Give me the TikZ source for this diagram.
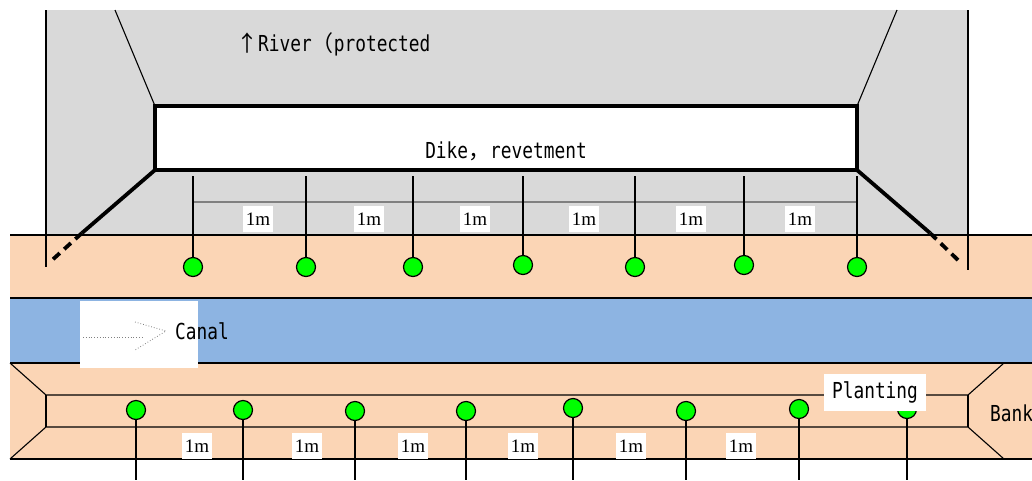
\documentclass[tikz,border=0pt]{standalone}
\usepackage{fontspec}
\setmainfont{Liberation Serif}
\newfontfamily\gothic{DejaVu Sans Mono}[FakeStretch=0.81]
\newfontfamily\jpfont{Noto Sans CJK JP}
\definecolor{rivergray}{HTML}{D9D9D9}
\definecolor{bankorange}{HTML}{FBD5B5}
\definecolor{canalblue}{HTML}{8DB4E2}
\definecolor{plantgreen}{HTML}{00FF00}
\tikzset{
	plant/.style={circle, draw, line width=1.2pt, fill=plantgreen, minimum size=19pt, inner sep=0pt},
	meter/.style={fill=white, inner sep=2pt, minimum width=30pt, minimum height=26pt, font=\fontsize{19}{19}\selectfont},
	gtext/.style={font=\gothic\fontsize{22}{22}\selectfont, inner sep=0pt},
	thinline/.style={line width=1.1pt},
	dikeline/.style={line width=3.8pt}
}
\begin{document}
\begin{tikzpicture}[x=1pt,y=-1pt]
	\useasboundingbox (0,0) rectangle (1032,480);
	% river side and bands
	\fill[rivergray] (46,10) rectangle (968,235);
	\fill[bankorange] (10,235) rectangle (1032,298);
	\fill[canalblue] (10,298) rectangle (1032,363);
	\fill[bankorange] (10,363) rectangle (1032,459);
	\draw[thinline] (10,235) -- (1032,235);
	\draw[thinline] (10,298) -- (1032,298);
	\draw[thinline] (10,363) -- (1032,363);
	\draw[thinline] (10,459) -- (1032,459);
	\draw[thinline] (46,10) -- (46,267);
	\draw[thinline] (968,10) -- (968,270);
	% lower planting strip
	\draw[thinline] (10,363) -- (46,395) -- (968,395) -- (1004,363);
	\draw[thinline] (10,459) -- (46,427) -- (968,427) -- (1004,459);
	\draw[thinline] (46,395) -- (46,427);
	\draw[thinline] (968,395) -- (968,427);
	% dike
	\coordinate (dikeNW) at (155,106);
	\coordinate (dikeNE) at (857,106);
	\coordinate (dikeSW) at (155,170);
	\coordinate (dikeSE) at (857,170);
	\draw[thinline] (115,10) -- (dikeNW);
	\draw[thinline] (897,10) -- (dikeNE);
	\draw[dikeline, fill=white] (dikeNW) rectangle (dikeSE);
	\draw[dikeline] (dikeSW) -- (82,233);
	\draw[dikeline, dash pattern=on 9pt off 6pt] (82,233) -- (50,262);
	\draw[dikeline] (dikeSE) -- (930,233);
	\draw[dikeline, dash pattern=on 9pt off 6pt] (930,233) -- (960,262);
	\node[gtext] (dike) at (506,151) {Dike{\jpfont ，}revetment};
	\node[gtext, anchor=west] (river) at (236,44) {{\jpfont ↑}River{\jpfont （}protected};
	% upper row of plants
	\draw[gray, line width=1.3pt] (192,202) -- (857,202);
	\foreach \x/\y [count=\i] in {193/267, 306/267, 413/267, 523/265, 635/267, 744/265, 857/267}{
		\node[plant] (top\i) at (\x,\y) {};
		\coordinate (stem\i) at (\x,176);
		\draw[thinline] (stem\i) -- (top\i);
	}
	\foreach \x [count=\i] in {258,369,475,584,691,800}
		\node[meter] (topm\i) at (\x,219) {1m};
	% canal
	\fill[white] (80,301) rectangle (198,368);
	\draw[gray, dotted, thick] (83,337) -- (142,337);
	\draw[gray, dotted, thick] (135,322) -- (166,331) -- (135,350);
	\node[gtext, anchor=west] (canal) at (175,331) {Canal};
	% lower row of plants
	\foreach \x/\y [count=\i] in {136/410, 243/410, 355/411, 466/411, 573/408, 686/411, 799/409, 907/409}{
		\node[plant] (low\i) at (\x,\y) {};
		\coordinate (root\i) at (\x,480);
		\draw[thinline] (low\i) -- (root\i);
	}
	\foreach \x [count=\i] in {197,307,413,523,631,741}
		\node[meter] (lowm\i) at (\x,446) {1m};
	\node[gtext, fill=white, minimum width=102pt, minimum height=37pt] (planting) at (875,392) {Planting};
	\node[gtext, anchor=west] (bank) at (990,413) {Bank};
\end{tikzpicture}
\end{document}
